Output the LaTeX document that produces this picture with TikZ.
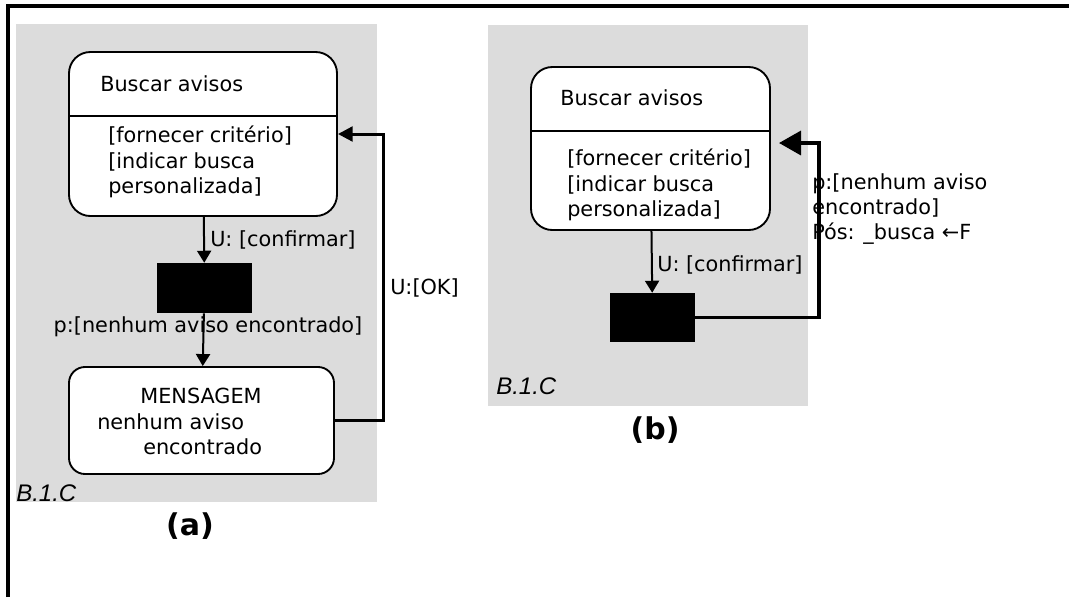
\documentclass[tikz,border=0pt]{standalone}
\usepackage{fontspec}
\setmainfont{DejaVu Sans}
\newfontfamily\arialfont{Liberation Sans}
\usetikzlibrary{arrows.meta}
\definecolor{panelgray}{RGB}{220,220,220}
\tikzstyle{State}=[rectangle, rounded corners=16pt, draw=black, line width=1.4pt, fill=white, inner sep=0pt]
\tikzstyle{Bar}=[rectangle, fill=black, inner sep=0pt]
\tikzstyle{Txt}=[inner sep=0pt, align=left, font=\fontsize{15.6}{19}\selectfont]
\tikzstyle{Tag}=[inner sep=0pt, anchor=west, font=\arialfont\itshape\fontsize{18}{20}\selectfont]
\tikzstyle{Caption}=[inner sep=0pt, font=\bfseries\fontsize{22.5}{26}\selectfont]
\tikzstyle{Flow}=[line width=1.5pt, -{Triangle[width=10.5pt,length=9pt]}]
\tikzstyle{Back}=[line width=2.25pt, -{Triangle[width=11pt,length=11pt]}]

\begin{document}
\begin{tikzpicture}[x=0.75pt, y=-0.75pt]
    \useasboundingbox (0,0) rectangle (1069,597);
    \draw[line width=2.5pt] (8,597) -- (8,6) -- (1069,6);

    % (a)
    \fill[panelgray] (16,24) rectangle (377,502);
    \path
    (203,134) node[State, minimum width=201pt, minimum height=123pt] (sa) {}
    (204.5,288) node[Bar, minimum width=71pt, minimum height=37.5pt] (ka) {}
    (201.5,420.5) node[State, rounded corners=12pt, minimum width=198.75pt, minimum height=80.25pt] (msg) {}
    coordinate[] (ra) at (383,134);

    \draw[line width=1.4pt] ([yshift=-48.75pt]sa.north west) -- ([yshift=-48.75pt]sa.north east);
    \path
    (100,84) node[Txt, anchor=west] (ta) {Buscar avisos}
    (108,162) node[Txt, anchor=west] (ca) {[fornecer critério]\\{[}indicar busca\\personalizada]}
    (201,396) node[Txt] (m1) {MENSAGEM}
    (97,422) node[Txt, anchor=west] (m2) {nenhum aviso}
    (143,447) node[Txt, anchor=west] (m3) {encontrado}
    (210,240) node[Txt, anchor=west] (ua) {U: [confirmar]}
    (208,327) node[Txt] (pa) {p:[nenhum aviso encontrado]}
    (390,288) node[Txt, anchor=west] (ok) {U:[OK]}
    (16,493) node[Tag] (ba) {B.1.C}
    (190,526) node[Caption] (capa) {(a)};

    \draw[Flow] (sa) -- (ka);
    \draw[Flow] (ka) -- (msg);
    \draw[Back] (msg.east) -| (ra) -- (sa.east);

    % (b)
    \fill[panelgray] (488,25) rectangle (808,406);
    \path
    (650.5,148.5) node[State, minimum width=179.25pt, minimum height=122.25pt] (sb) {}
    (652.5,317.5) node[Bar, minimum width=63.75pt, minimum height=36.75pt] (kb) {}
    coordinate[] (rb) at (819,143)
    coordinate[] (tb) at (779,143);

    \draw[line width=1.4pt] ([yshift=-48.75pt]sb.north west) -- ([yshift=-48.75pt]sb.north east);
    \path
    (560,98) node[Txt, anchor=west] (tb1) {Buscar avisos}
    (567,185) node[Txt, anchor=west] (cb) {[fornecer critério]\\{[}indicar busca\\personalizada]}
    (657,265) node[Txt, anchor=west] (ub) {U: [confirmar]}
    (812,209) node[Txt, anchor=west] (pb) {p:[nenhum aviso\\encontrado]\\Pós: \_busca ←F}
    (496,386) node[Tag] (bb) {B.1.C}
    (655,430) node[Caption] (capb) {(b)};

    \draw[Flow] (sb) -- (kb);
    \draw[line width=2.6pt, -{Triangle[width=18pt,length=16.5pt]}] (kb.east) -| (rb) -- (tb);
\end{tikzpicture}
\end{document}
